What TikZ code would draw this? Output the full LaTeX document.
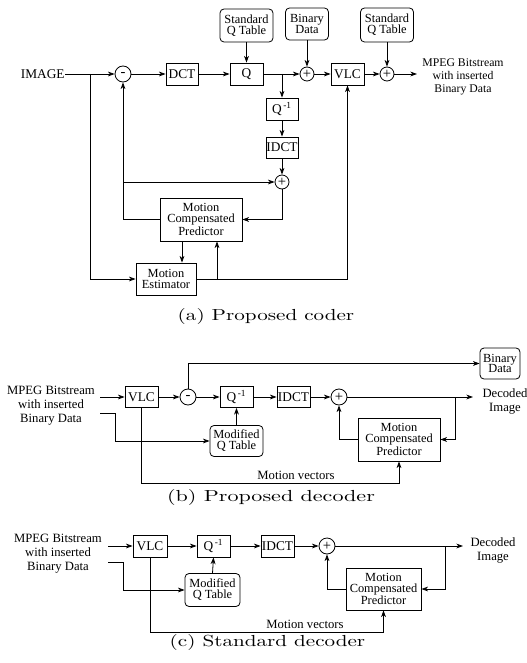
\documentclass[tikz,border=0pt]{standalone}
\usepackage{fontspec}
\newfontfamily\tnr{Liberation Serif}
\newfontfamily\capfont{lmroman10-regular.otf}[FakeStretch=1.32]
\newfontfamily\capfontb{lmroman10-regular.otf}[FakeStretch=1.38]
\usetikzlibrary{arrows.meta,calc}
\begin{document}
\begin{tikzpicture}[x=0.75pt,y=-0.75pt,
  line width=0.6pt,
  arr/.style={-{Stealth[length=5pt,width=3.6pt,inset=1.5pt]}},
  sz/.style 2 args={minimum width=#1*0.75pt,minimum height=#2*0.75pt},
  blk/.style={draw,inner sep=0pt,align=center,font=\tnr\fontsize{10}{8}\selectfont},
  rblk/.style={blk,rounded corners=3pt,font=\tnr\fontsize{9.3}{8.1}\selectfont},
  mblk/.style={blk,font=\tnr\fontsize{9.3}{8.4}\selectfont},
  sumc/.style={draw,circle,inner sep=0pt,minimum size=#1*0.75pt,font=\tnr\fontsize{11}{11}\selectfont},
  lbl/.style={inner sep=0pt,align=center,font=\tnr\fontsize{9.5}{10.5}\selectfont},
  captxt/.style={inner sep=0pt,font=\capfont\fontsize{12}{14}\selectfont}]
\useasboundingbox (0,0) rectangle (526,663);

% ---------------- (a) Proposed coder ----------------
\node[lbl,anchor=east,font=\tnr\fontsize{10}{12}\selectfont] (image) at (65,74) {IMAGE};
\node[sumc=16] (sub1) at (123,74) {-};
\node[blk,sz={32}{22}] (dct) at (182,74) {DCT};
\node[blk,sz={33}{22}] (q) at (246.5,74) {Q};
\node[rblk,sz={53}{33}] (sqt1) at (246.5,25.5) {Standard\\Q Table};
\node[rblk,sz={43}{32}] (bin) at (307,24) {Binary\\Data};
\node[sumc=14] (add1) at (307,74) {+};
\node[blk,sz={33}{22}] (vlc) at (347.5,74) {VLC};
\node[sumc=14] (add2) at (387,74) {+};
\node[rblk,sz={53}{34}] (sqt2) at (387,25) {Standard\\Q Table};
\node[lbl,font=\tnr\fontsize{8.8}{10}\selectfont] (out) at (463,77) {MPEG Bitstream\\with inserted\\Binary Data};
\coordinate (outend) at (417,74);
\node[blk,sz={32}{22}] (qi) at (282,109) {Q\textsuperscript{\,-1}};
\node[blk,sz={32}{21}] (idct) at (282,147.5) {IDCT};
\node[sumc=14] (add3) at (282,182) {+};
\node[mblk,sz={82}{43}] (mcp) at (201,219.5) {Motion\\Compensated\\Predictor};
\node[mblk,sz={60}{32}] (me) at (166,279) {Motion\\Estimator};
\coordinate (j1) at (90,74);
\coordinate (j2) at (123,182);
\coordinate (j3) at (217,279);
\coordinate (j4) at (282,74);

\draw[arr] (image.east) -- (sub1.west);
\draw[arr] (sub1.east) -- (dct.west);
\draw[arr] (dct.east) -- (q.west);
\draw[arr] (sqt1.south) -- (q.north);
\draw[arr] (q.east) -- (add1.west);
\draw[arr] (bin.south) -- (add1.north);
\draw[arr] (add1.east) -- (vlc.west);
\draw[arr] (vlc.east) -- (add2.west);
\draw[arr] (sqt2.south) -- (add2.north);
\draw[arr] (add2.east) -- (outend);
\draw[arr] (j4) -- (qi.north);
\draw[arr] (qi.south) -- (idct.north);
\draw[arr] (idct.south) -- (add3.north);
\draw[arr] (j2) -- (add3.west);
\draw[arr] (add3.south) |- (mcp.east);
\draw[arr] (mcp.west) -| (sub1.south);
\draw[arr] ([xshift=-14.25pt]mcp.south) -- ([xshift=-14.25pt]mcp.south |- me.north);
\draw[arr] (me.east) -| (vlc.south);
\draw[arr] (j3) -- (j3 |- mcp.south);
\draw[arr] (j1) |- (me.west);

\node[captxt] (capa) at (266,316) {(a) Proposed coder};

% ---------------- (b) Proposed decoder ----------------
\node[lbl] (inb) at (51,406) {MPEG Bitstream\\with inserted\\Binary Data};
\coordinate (inbA) at (100,397);
\coordinate (inbB) at (100,413);
\coordinate (kb) at (115,413);
\node[blk,sz={33}{21}] (vlcb) at (141.5,397) {VLC};
\node[sumc=16] (subb) at (188,397) {-};
\node[blk,sz={33}{21}] (qib) at (236.5,397) {Q\textsuperscript{\,-1}};
\node[blk,sz={33}{21}] (idctb) at (293.5,397) {IDCT};
\node[sumc=16] (addb) at (339,397) {+};
\node[rblk,sz={40}{31}] (binb) at (500,363.5) {Binary\\Data};
\node[rblk,sz={53}{31}] (mqtb) at (236.5,441) {Modified\\Q Table};
\node[mblk,sz={82}{43}] (mcpb) at (399,439.5) {Motion\\Compensated\\Predictor};
\node[lbl,font=\tnr\fontsize{9.5}{9.8}\selectfont] (decb) at (505,401.5) {Decoded\\Image};
\coordinate (outb) at (473,397);
\coordinate (jb) at (455,397);
\coordinate (mvb) at (141.5,483);
\node[lbl,anchor=base] (mvlb) at (296,479) {Motion vectors};

\draw[arr] (inbA) -- (vlcb.west);
\draw[arr] (vlcb.east) -- (subb.west);
\draw[arr] (subb.east) -- (qib.west);
\draw[arr] (qib.east) -- (idctb.west);
\draw[arr] (idctb.east) -- (addb.west);
\draw[arr] (addb.east) -- (outb);
\draw[arr] (subb.north) |- (binb.west);
\draw[arr] (inbB) -- (kb) |- (mqtb.west);
\draw[arr] (mqtb.north) -- (qib.south);
\draw[arr] (vlcb.south) -- (mvb) -| (mcpb.south);
\draw[arr] (jb) |- (mcpb.east);
\draw[arr] (mcpb.west) -| (addb.south);

\node[captxt,font=\capfontb\fontsize{12}{14}\selectfont] (capb) at (271,497) {(b) Proposed decoder};

% ---------------- (c) Standard decoder ----------------
\node[lbl] (inc) at (58,554) {MPEG Bitstream\\with inserted\\Binary Data};
\coordinate (incA) at (108,546);
\coordinate (incB) at (108,562);
\coordinate (kc) at (123,562);
\node[blk,sz={34}{22}] (vlcc) at (150,546) {VLC};
\node[blk,sz={33}{22}] (qic) at (213.5,546) {Q\textsuperscript{\,-1}};
\node[blk,sz={33}{22}] (idctc) at (277.5,546) {IDCT};
\node[sumc=16] (addc) at (327,546) {+};
\node[rblk,sz={55}{33}] (mqtc) at (212.5,590) {Modified\\Q Table};
\node[mblk,sz={75}{42}] (mcpc) at (383.5,589) {Motion\\Compensated\\Predictor};
\node[lbl,font=\tnr\fontsize{9.5}{11}\selectfont] (decc) at (493,550.5) {Decoded\\Image};
\coordinate (outc) at (463,546);
\coordinate (jc) at (445,546);
\coordinate (mvc) at (150,632);
\node[lbl,anchor=base] (mvlc) at (305,628) {Motion vectors};

\draw[arr] (incA) -- (vlcc.west);
\draw[arr] (vlcc.east) -- (qic.west);
\draw[arr] (qic.east) -- (idctc.west);
\draw[arr] (idctc.east) -- (addc.west);
\draw[arr] (addc.east) -- (outc);
\draw[arr] (incB) -- (kc) |- (mqtc.west);
\draw[arr] (mqtc.north) -- (qic.south);
\draw[arr] (vlcc.south) -- (mvc) -| (mcpc.south);
\draw[arr] (jc) |- (mcpc.east);
\draw[arr] (mcpc.west) -| (addc.south);

\node[captxt] (capc) at (267.5,642) {(c) Standard decoder};
\end{tikzpicture}
\end{document}
